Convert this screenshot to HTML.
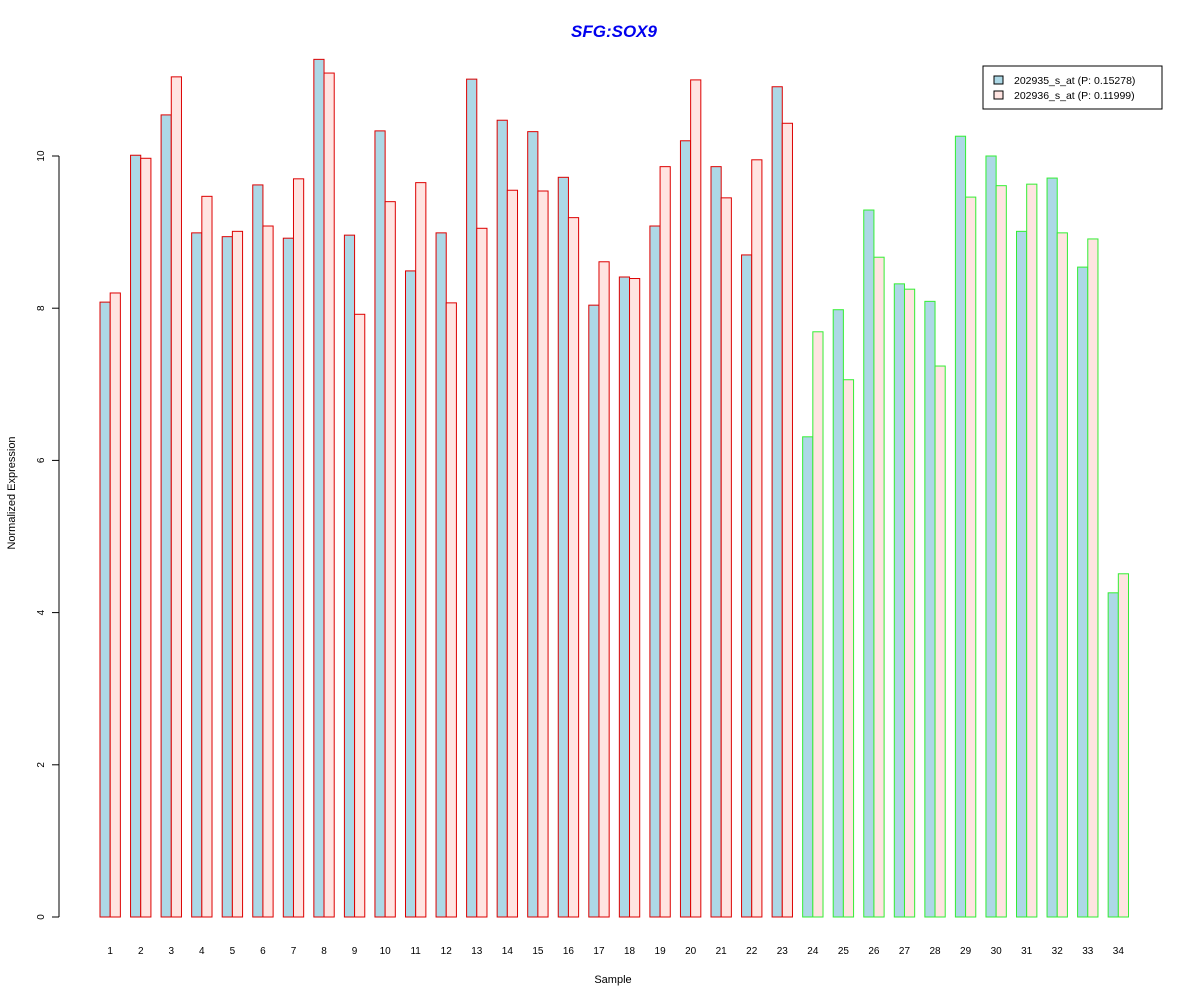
<!DOCTYPE html>
<html><head><meta charset="utf-8"><style>
body{margin:0;background:#fff}
svg text{font-family:"Liberation Sans",Arial,sans-serif}
</style></head><body>
<svg id="chart" width="1200" height="1000" xmlns="http://www.w3.org/2000/svg">
<text x="614" y="37" text-anchor="middle" font-size="17" font-weight="bold" font-style="italic" fill="#0000ee">SFG:SOX9</text>
<text x="613" y="983" text-anchor="middle" font-size="11">Sample</text>
<text transform="translate(15,493) rotate(-90)" text-anchor="middle" font-size="11">Normalized Expression</text>
<g id="yaxis"></g>
<g id="bars"></g>
<g id="xlabels"></g>
<g>
<rect x="983" y="66" width="179" height="43" fill="#fff" stroke="#000" stroke-width="1"/>
<rect x="994" y="76" width="9" height="8" fill="#add8e6" stroke="#000"/>
<text x="1014" y="84" font-size="10.5">202935_s_at (P: 0.15278)</text>
<rect x="994" y="91" width="9" height="8" fill="#ffe4e1" stroke="#000"/>
<text x="1014" y="99" font-size="10.5">202936_s_at (P: 0.11999)</text>
</g>
</svg>
<script>
const categories=["1","2","3","4","5","6","7","8","9","10","11","12","13","14","15","16","17","18","19","20","21","22","23","24","25","26","27","28","29","30","31","32","33","34"];
const series1=[8.08,10.01,10.54,8.99,8.94,9.62,8.92,11.27,8.96,10.33,8.49,8.99,11.01,10.47,10.32,9.72,8.04,8.41,9.08,10.2,9.86,8.70,10.91,6.31,7.98,9.29,8.32,8.09,10.26,10.0,9.01,9.71,8.54,4.26];
const series2=[8.2,9.97,11.04,9.47,9.01,9.08,9.70,11.09,7.92,9.40,9.65,8.07,9.05,9.55,9.54,9.19,8.61,8.39,9.86,11.0,9.45,9.95,10.43,7.69,7.06,8.67,8.25,7.24,9.46,9.61,9.63,8.99,8.91,4.51];
const groupBorder=["red","red","red","red","red","red","red","red","red","red","red","red","red","red","red","red","red","red","red","red","red","red","red","green","green","green","green","green","green","green","green","green","green","green"];
const yTicks=[0,2,4,6,8,10];
const NS="http://www.w3.org/2000/svg";
const y0=917,pxPerUnit=76.1;
function yScale(v){return y0-v*pxPerUnit;}
const unit=30.55/3;
function xScale(i,j){return 100+i*30.55+j*unit;}
const colMap={red:"#dd0000",green:"#33ee33"};
const yaxis=document.getElementById('yaxis');
const yl=document.createElementNS(NS,'line');


yl.setAttribute('x1',59);yl.setAttribute('x2',59);
yl.setAttribute('y1',yScale(0));yl.setAttribute('y2',yScale(10));
yl.setAttribute('stroke','#000');yaxis.appendChild(yl);
yTicks.forEach(t=>{
 const l=document.createElementNS(NS,'line');
 
 
 l.setAttribute('x1',52);l.setAttribute('x2',59);
 l.setAttribute('y1',yScale(t));l.setAttribute('y2',yScale(t));
 l.setAttribute('stroke','#000');yaxis.appendChild(l);
 const tx=document.createElementNS(NS,'text');
 
 
 tx.setAttribute('transform',`translate(44,${yScale(t)}) rotate(-90)`);
 tx.setAttribute('text-anchor','middle');tx.setAttribute('font-size','10');
 tx.textContent=t;yaxis.appendChild(tx);
});
const bars=document.getElementById('bars'),xl=document.getElementById('xlabels');
categories.forEach((c,i)=>{
 [[series1,'#add8e6'],[series2,'#ffe4e1']].forEach(([s,f],j)=>{
  const r=document.createElementNS(NS,'rect');
  
  
  r.setAttribute('x',xScale(i,j));r.setAttribute('width',unit);
  r.setAttribute('y',yScale(s[i]));r.setAttribute('height',yScale(0)-yScale(s[i]));
  r.setAttribute('fill',f);r.setAttribute('stroke',colMap[groupBorder[i]]);
  bars.appendChild(r);
 });
 const t=document.createElementNS(NS,'text');
 
 
 t.setAttribute('x',xScale(i,1));t.setAttribute('y',954);
 t.setAttribute('text-anchor','middle');t.setAttribute('font-size','10');
 t.textContent=c;xl.appendChild(t);
});
</script>
</body></html>
